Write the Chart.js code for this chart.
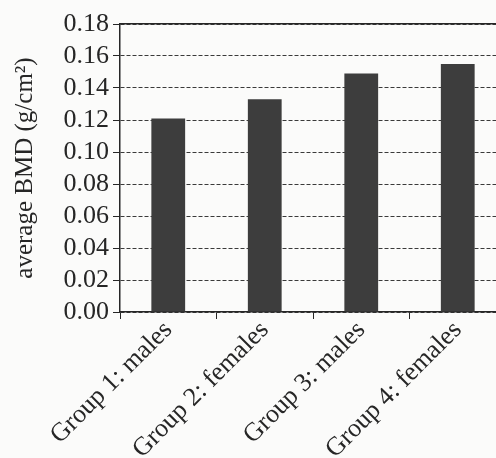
<!DOCTYPE html>
<html>
<head>
<meta charset="utf-8">
<script src="https://cdn.jsdelivr.net/npm/chart.js@4/dist/chart.umd.min.js"></script>
<style>
	html, body { margin: 0; padding: 0; background: #fbfbfa; overflow: hidden; }
	#wrap { width: 506px; height: 458px; }
</style>
</head>
<body>
<div id="wrap"><canvas id="bmdChart" width="506" height="458"></canvas></div>
<script>
const groups = ['Group 1: males', 'Group 2: females', 'Group 3: males', 'Group 4: females'];
const avgBmd = [0.121, 0.133, 0.149, 0.155];
const yTicks = [0, 0.02, 0.04, 0.06, 0.08, 0.10, 0.12, 0.14, 0.16, 0.18];

const serif = '"Liberation Serif", "Times New Roman", serif';
const ink = '#262626';

const ctx = document.getElementById('bmdChart').getContext('2d');
new Chart(ctx, {
	type: 'bar',
	data: {
		labels: groups,
		datasets: [{
			label: 'average BMD',
			data: avgBmd,
			backgroundColor: '#3d3d3d',
			borderWidth: 0,
			categoryPercentage: 1,
			barPercentage: 0.35
		}]
	},
	options: {
		responsive: false,
		animation: false,
		layout: { padding: { top: 24, right: 0, left: 0, bottom: 0 } },
		scales: {
			x: {
				offset: true,
				grid: {
					offset: true,
					drawOnChartArea: false,
					drawTicks: true,
					tickLength: 7,
					color: ink
				},
				border: { display: true, color: ink, width: 1.5 },
				ticks: {
					font: { family: serif, size: 26 },
					color: ink,
					maxRotation: 45,
					minRotation: 45,
					autoSkip: false,
					padding: -4
				},
				afterFit: function(scale) { scale.height = 146; }
			},
			// solid frame line along the top of the plot
			xTop: {
				position: 'top',
				type: 'category',
				labels: groups,
				grid: { display: false },
				ticks: { display: false },
				border: { display: true, color: ink, width: 1.5 },
				afterFit: function(scale) { scale.height = 0; }
			},
			y: {
				min: 0,
				max: 0.18,
				afterBuildTicks: function(scale) {
					scale.ticks = yTicks.map(function(v) { return {value: v}; });
				},
				grid: {
					color: '#3a3a3a',
					lineWidth: 1,
					tickLength: 7,
					tickBorderDash: [],
					tickColor: ink
				},
				border: { display: true, color: ink, width: 1.5, dash: [4, 2] },
				ticks: {
					font: { family: serif, size: 26 },
					color: ink,
					padding: 4,
					autoSkip: false,
					callback: function(v) { return Number(v).toFixed(2); }
				},
				title: {
					display: true,
					text: 'average BMD (g/cm²)',
					font: { family: serif, size: 25 },
					color: ink,
					padding: { top: 10, bottom: 0 }
				},
				afterFit: function(scale) { scale.width = 120; }
			}
		},
		plugins: {
			legend: { display: false },
			tooltip: { enabled: false }
		}
	}
});
</script>
</body>
</html>
